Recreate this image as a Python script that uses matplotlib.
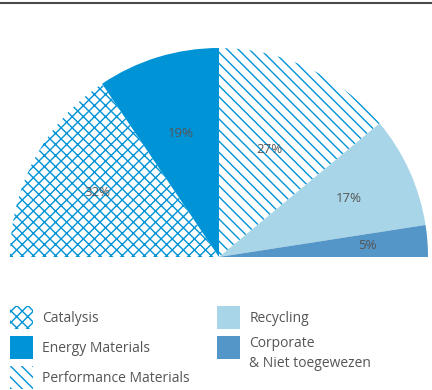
import numpy as np
import matplotlib.pyplot as plt
from matplotlib.patches import Patch

# data
segments = ["Catalysis", "Energy Materials", "Performance Materials",
            "Recycling", "Corporate\n& Niet toegewezen"]
# shares (half circle = 100)
shares = [31.1, 18.9, 27.9, 17.2, 4.9]
pct_labels = ["32%", "19%", "27%", "17%", "5%"]

# styles
blue = "#0093d6"
face = ["white", blue, "white", "#a9d5e8", "#5596c8"]
hatches = ["xxx", None, "\\\\\\", None, None]
label_r = [0.66, 0.62, 0.57, 0.68, 0.71]
text_col = "#555555"

plt.rcParams["font.family"] = ["Open Sans", "DejaVu Sans"]
plt.rcParams["hatch.linewidth"] = 1.0
plt.rcParams["hatch.color"] = blue

W, H = 432, 390
fig = plt.figure(figsize=(W / 100, H / 100), dpi=100)
ax = fig.add_axes([0, 0, 1, 1])

cx, cy, R = 219, H - 257, 209
# half pie: the visible shares fill the top 180 degrees, a hidden wedge fills the rest
wedges, _ = ax.pie(shares + [sum(shares)], startangle=180, counterclock=False,
                   radius=R, center=(cx, cy), frame=True)
wedges[-1].set_visible(False)

for w, fc, h, lab, rr in zip(wedges, face, hatches, pct_labels, label_r):
    w.set_facecolor(fc)
    w.set_linewidth(0)
    if h:
        w.set_hatch(h)
        w.set_edgecolor(blue)
    mid = np.deg2rad((w.theta1 + w.theta2) / 2)
    ax.text(cx + rr * R * np.cos(mid), cy + rr * R * np.sin(mid), lab,
            ha="center", va="center", fontsize=9.5, color=text_col)

ax.axhline(H - 2.5, color="#4a4a4a", lw=1.5)

handles = []
for fc, h in zip(face, hatches):
    p = Patch(facecolor=fc, hatch=h, linewidth=0,
              edgecolor=blue if h else fc)
    handles.append(p)

leg = ax.legend(handles, segments, ncol=2, frameon=False, fontsize=10,
                loc="upper left", bbox_to_anchor=(10 / W, 1 - 306 / H),
                borderaxespad=0, borderpad=0,
                handlelength=1.65, handleheight=2.17, handletextpad=0.65,
                labelspacing=0.5, columnspacing=2.0, labelcolor=text_col)

# two-line entry: keep the swatch level with the first line
leg.get_texts()[4].set_linespacing(1.45)
col2 = leg._legend_handle_box.get_children()[1]
col2.get_children()[1].align = "top"

ax.set_xlim(0, W)
ax.set_ylim(0, H)
ax.set_aspect("auto")
ax.axis("off")

fig.savefig("out.png", dpi=100)
